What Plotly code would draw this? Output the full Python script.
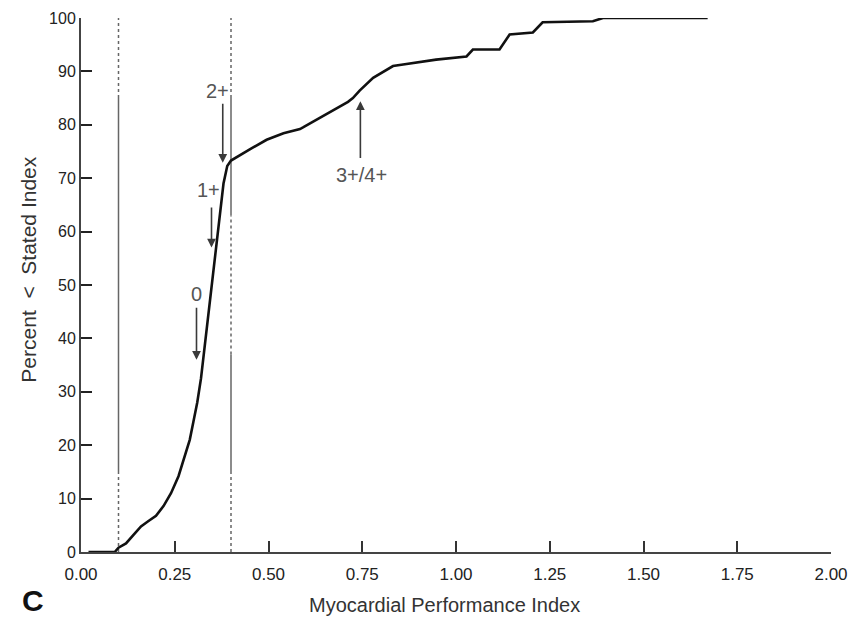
import plotly.graph_objects as go

# Cumulative distribution of the myocardial performance index
mpi = [0.02, 0.09, 0.10, 0.12, 0.14, 0.16, 0.18, 0.20, 0.22, 0.24, 0.26, 0.28,
       0.29, 0.30, 0.31, 0.32, 0.33, 0.34, 0.35, 0.36, 0.37, 0.38, 0.39, 0.40,
       0.45, 0.495, 0.54, 0.584, 0.592, 0.628, 0.645, 0.672, 0.699, 0.712,
       0.725, 0.743, 0.779, 0.832, 0.859, 0.894, 0.947, 1.028, 1.045, 1.116,
       1.143, 1.205, 1.231, 1.365, 1.392, 1.671]
percent_below = [0, 0, 0.8, 1.6, 3.2, 4.8, 5.8, 6.8, 8.6, 11.0, 14.2, 18.5,
                 21.0, 24.5, 28.0, 32.5, 38.5, 44.5, 50.0, 56.0, 63.0, 69.0, 72.3, 73.3,
                 75.4, 77.2, 78.4, 79.2, 79.5, 80.9, 81.6, 82.7, 83.7, 84.3,
                 85.0, 86.4, 88.8, 91.0, 91.3, 91.7, 92.2, 92.8, 94.1, 94.1,
                 96.9, 97.3, 99.2, 99.4, 100, 100]

# Reference cut-off lines: (x, [(y_from, y_to, dash), ...])
cutoff_lines = [
    (0.10, [(0, 15, "dot"), (15, 85, "solid"), (85, 100, "dot")]),
    (0.40, [(0, 15, "dot"), (15, 37, "solid"), (37, 63, "dot"),
            (63, 85, "solid"), (85, 100, "dot")]),
]

# Grade markers: label, arrow x, arrow tail y, arrow tip y, label x, label y
grade_labels = ["0", "1+", "2+", "3+/4+"]
grade_arrow_x = [0.308, 0.348, 0.378, 0.745]
grade_tail_y = [46.0, 64.8, 84.2, 73.5]
grade_tip_y = [36.0, 57.0, 72.9, 84.4]
grade_label_x = [0.308, 0.339, 0.365, 0.749]
grade_label_y = [48.4, 67.8, 86.3, 70.6]

x_ticks = [0, 0.25, 0.5, 0.75, 1.0, 1.25, 1.5, 1.75, 2.0]
x_tick_text = ["0.00", "0.25", "0.50", "0.75", "1.00", "1.25", "1.50", "1.75", "2.00"]
y_ticks = list(range(0, 101, 10))

FONT = "Liberation Sans, Arial, sans-serif"

fig = go.Figure()

for x0, segs in cutoff_lines:
    for y_a, y_b, dash in segs:
        fig.add_trace(go.Scatter(
            x=[x0, x0], y=[y_a, y_b], mode="lines",
            line=dict(color="#666666", width=1.5, dash=dash),
            showlegend=False, hoverinfo="skip", cliponaxis=False,
        ))

fig.add_trace(go.Scatter(
    x=mpi, y=percent_below, mode="lines",
    line=dict(color="#111111", width=2.6),
    showlegend=False, cliponaxis=False,
))

annotations = []
for lab, ax_, ty, hy, lx, ly in zip(grade_labels, grade_arrow_x, grade_tail_y,
                                    grade_tip_y, grade_label_x, grade_label_y):
    annotations.append(dict(
        x=ax_, y=hy, ax=ax_, ay=ty, xref="x", yref="y", axref="x", ayref="y",
        text="", showarrow=True, arrowhead=2, arrowsize=1.1, arrowwidth=1.6,
        arrowcolor="#3a3a3a",
    ))
    annotations.append(dict(
        x=lx, y=ly, xref="x", yref="y", text=lab, showarrow=False,
        font=dict(family=FONT, size=20, color="#555555"),
        xanchor="center", yanchor="middle",
    ))

annotations += [
    dict(x=445, y=606, xref="paper", yref="paper", text="Myocardial Performance Index",
         showarrow=False, font=dict(family=FONT, size=20, color="#333333")),
    dict(x=29, y=270, xref="paper", yref="paper",
         text="Percent \u00a0<\u00a0 Stated Index", textangle=-90,
         showarrow=False, font=dict(family=FONT, size=21, color="#333333")),
    dict(x=33, y=601, xref="paper", yref="paper", text="<b>C</b>",
         showarrow=False, font=dict(family=FONT, size=30, color="#111111")),
]

# place the pixel-positioned titles in paper coordinates
W, H = 852, 627
L, R, T, B = 81, 20.5, 18.3, 74.5
for a in annotations:
    if a["xref"] == "paper":
        a["x"] = (a["x"] - L) / (W - L - R)
        a["y"] = 1 - (a["y"] - T) / (H - T - B)
        a["xanchor"] = "center"
        a["yanchor"] = "middle"

fig.update_layout(
    width=W, height=H,
    margin=dict(l=L, r=R, t=T, b=B, autoexpand=False),
    paper_bgcolor="white", plot_bgcolor="white",
    annotations=annotations,
    xaxis=dict(
        range=[0, 2], tickvals=x_ticks, ticktext=x_tick_text, automargin=False,
        showgrid=False, zeroline=False, showline=True, linecolor="#444444", linewidth=2,
        ticks="inside", ticklen=11, tickwidth=1.8, tickcolor="#333333",
        ticklabelstandoff=6,
        tickfont=dict(family=FONT, size=17, color="#222222"),
    ),
    yaxis=dict(
        range=[0, 100], tickvals=y_ticks, automargin=False,
        showgrid=False, zeroline=False, showline=True, linecolor="#444444", linewidth=2,
        ticks="inside", ticklen=11, tickwidth=2, tickcolor="#222222",
        tickfont=dict(family=FONT, size=16, color="#222222"),
    ),
)

fig.write_html("out.html")
